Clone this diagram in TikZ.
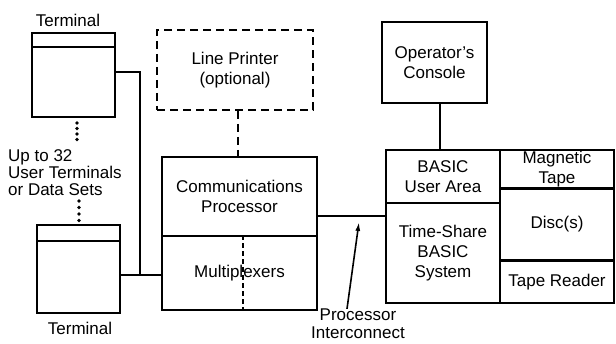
\documentclass[tikz,border=0pt]{standalone}
\usepackage{fontspec}
\setmainfont{Liberation Sans}
\usetikzlibrary{arrows.meta}
\begin{document}
\begin{tikzpicture}[x=1pt,y=-1pt,
  every node/.style={font=\fontsize{17}{20}\selectfont, align=center, inner sep=0pt},
  box/.style={draw, line width=1.8pt, rectangle},
  dbox/.style={draw, line width=1.8pt, rectangle, dash pattern=on 8pt off 5pt},
  conn/.style={line width=1.8pt},
  dconn/.style={line width=1.8pt, dash pattern=on 8pt off 5pt},
  fdash/.style={line width=1.1pt, dash pattern=on 5pt off 3pt},
  dotmark/.style={circle, fill, minimum size=3.8pt, inner sep=0pt}
]
\useasboundingbox (0,0) rectangle (616,344);

% terminals
\node[box, minimum width=83pt, minimum height=84pt] (t1) at (73.5,75) {};
\node (t1l) at (68,20) {Terminal};
\draw[conn] ([yshift=-15pt]t1.north west) -- ([yshift=-15pt]t1.north east);
\node[box, minimum width=83pt, minimum height=88pt] (t2) at (78.5,269) {};
\node (t2l) at (80,328) {Terminal};
\draw[conn] ([yshift=-17pt]t2.north west) -- ([yshift=-17pt]t2.north east);

% dots
\node[dotmark] (d1) at (77,123) {};
\node[dotmark] (d2) at (77,128.5) {};
\node[dotmark] (d3) at (77,134) {};
\node[dotmark] (d4) at (77,139.5) {};
\node[dotmark] (d5) at (79,201) {};
\node[dotmark] (d6) at (79,207.5) {};
\node[dotmark] (d7) at (79,214) {};
\node[dotmark] (d8) at (79,220.5) {};
\node[anchor=west, align=left, font=\fontsize{17}{17}\selectfont] (upto) at (8,173) {Up to 32\\User Terminals\\or Data Sets};

% communications processor
\node[box, minimum width=155pt, minimum height=79pt] (cpt) at (239.5,196.5) {Communications\\Processor};
\node[box, minimum width=155pt, minimum height=74pt] (mux) at (239.5,273) {Multiplexers};
\draw[fdash] (mux.north -| 243,0) -- (mux.south -| 243,0);

% line printer
\node[dbox, minimum width=156pt, minimum height=80pt] (lp) at (235,70) {Line Printer\\(optional)};
\draw[dconn] (lp.south -| 238,0) -- (cpt.north -| 238,0);

% terminal connectors
\coordinate (j) at (140,275);
\draw[conn] ([yshift=3pt]t1.east) -| (j);
\draw[conn] (t2.east |- j) -- (mux.west |- j);

% operator's console
\node[box, minimum width=105pt, minimum height=81pt] (oc) at (434.5,62.5) {Operator's\\Console};

% BASIC system
\node[box, minimum width=114pt, minimum height=53pt] (ua) at (443,176.5) {BASIC\\User Area};
\node[box, minimum width=114pt, minimum height=100pt] (ts) at (443,253) {Time-Share\\BASIC\\System};
\node[box, minimum width=114pt, minimum height=39pt] (mt) at (557,169.5) {\fontsize{17}{15.5}\selectfont Magnetic\\Tape};
\node[box, minimum width=114pt, minimum height=72pt] (dk) at (557,224) {Disc(s)};
\node[box, minimum width=114pt, minimum height=42pt] (tr) at (557,282) {Tape Reader};
\draw[conn] (oc.south -| 440,0) -- (ua.north -| 440,0);

% processor interconnect
\coordinate (ic) at (359,216);
\draw[conn] (cpt.east |- ic) -- (ts.west |- ic);
\node[font=\fontsize{17}{18}\selectfont] (pil) at (358,324) {Processor\\Interconnect};
\draw[line width=1.6pt, -{Latex[length=9pt,width=5pt]}] ([xshift=-11pt]pil.north) -- ([yshift=-6pt]ic);
\end{tikzpicture}
\end{document}
